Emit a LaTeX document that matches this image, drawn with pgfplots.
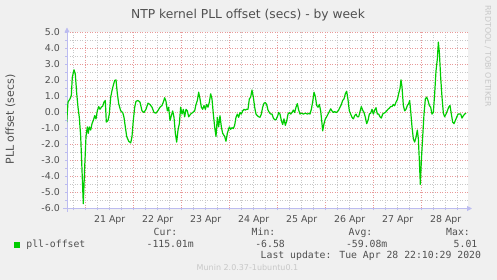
\documentclass[border=0pt]{standalone}
\usepackage{pgfplots}
\pgfplotsset{compat=1.18}
\usepackage{fontspec}
\setmainfont{DejaVu Sans}
\newfontfamily\mono{DejaVu Sans Mono}
\usetikzlibrary{arrows.meta}
\definecolor{bgc}{HTML}{F0F0F0}
\definecolor{txt}{HTML}{505050}
\definecolor{axc}{HTML}{BCBCF0}
\definecolor{mgrid}{HTML}{E89A9A}
\definecolor{grid}{HTML}{C8C8C8}
\definecolor{lgreen}{HTML}{00CC00}
\definecolor{faint}{HTML}{C8C8C8}
\begin{document}
\begin{tikzpicture}[x=1pt,y=1pt]
\fill[bgc] (0,0) rectangle (497,280);
\useasboundingbox (0,0) rectangle (497,280);
\begin{axis}[
  at={(67pt,71.5pt)}, anchor=south west,
  scale only axis, width=401pt, height=176pt,
  xmin=-9.35, xmax=191.15, ymin=-6, ymax=5,
  axis lines=left,
  axis background/.style={fill=white},
  axis line style={draw=axc, line width=0.9pt},
  every outer x axis line/.append style={-{Triangle[length=5pt,width=5pt]}, shorten >=-4pt, shorten <=-4pt},
  every outer y axis line/.append style={-{Triangle[length=5pt,width=5pt]}, shorten >=-5pt, shorten <=-3.5pt},
  xtick={0,24,48,72,96,120,144,168},
  xticklabels={,,,,,,,},
  minor xtick={-6,6,12,18,30,36,42,54,60,66,78,84,90,102,108,114,126,132,138,150,156,162,174,180,186},
  extra x ticks={12,36,60,84,108,132,156,180},
  extra x tick labels={21 Apr,22 Apr,23 Apr,24 Apr,25 Apr,26 Apr,27 Apr,28 Apr},
  extra x tick style={grid=none, major tick length=0pt},
  ytick={-6,-5,-4,-3,-2,-1,0,1,2,3,4,5},
  yticklabels={-6.0,-5.0,-4.0,-3.0,-2.0,-1.0,0.0,1.0,2.0,3.0,4.0,5.0},
  minor ytick={-5.5,-4.5,-3.5,-2.5,-1.5,-0.5,0.5,1.5,2.5,3.5,4.5},
  grid=both,
  major grid style={draw=mgrid, line width=0.7pt, dash pattern=on 1pt off 1.5pt},
  minor grid style={draw=grid, line width=0.7pt, dash pattern=on 1pt off 1.5pt},
  tick align=outside,
  major tick length=2pt, minor tick length=2pt,
  tick style={draw=axc, line width=0.6pt},
  tick label style={font=\fontsize{9.4}{11}\selectfont, text=txt, inner sep=0pt},
  yticklabel style={anchor=east},
  yticklabel shift=5pt,
  xticklabel shift=7pt,
]
\addplot[lgreen, line width=1.2pt, line join=round] coordinates {
(-9.5,-0.6) (-8.85,0.65) (-7.85,0.85) (-7.2,1.06) (-6.7,2.2) (-5.85,2.67) (-5.2,2.4) (-4.5,1.2) (-3.85,0.33) (-3.2,-0.3) (-2.5,-1.5) (-1.85,-3.6) (-1.2,-5.7) (-0.5,-3.4) (0.15,-1.5) (0.8,-0.9) (1.3,-1.3) (1.8,-0.9) (2.5,-1.1) (3.15,-0.7) (3.8,-0.5) (4.5,-0.2) (5.15,-0.4) (5.8,0.1) (6.5,0.37) (7.15,0.2) (7.8,0.33) (8.5,0.4) (9.15,0.65) (9.8,0.75) (10.3,-0.6) (11.15,-0.5) (11.8,-0.1) (12.5,0.96) (13.15,1.37) (13.8,1.7) (14.5,2.0) (15.15,2.04) (15.8,1.2) (16.5,0.55) (17.5,0.1) (18.5,0.0) (19.15,-0.3) (19.8,-0.9) (20.5,-1.5) (21.5,-1.8) (22.5,-1.9) (23.15,-1.5) (23.8,-0.5) (24.5,0.33) (25.15,0.7) (26.15,0.75) (27.15,0.65) (28.15,0.1) (29.15,0.0) (30.15,0.2)
(31.15,0.58) (32.15,0.5) (33.15,0.33) (34.15,0.0) (35.15,-0.04) (36.15,0.12) (37.15,0.33) (38.15,0.44) (38.82,0.65) (39.48,0.92) (40.15,0.7) (40.82,0.1) (41.48,0.33) (42.15,-0.5) (42.82,-0.2) (43.48,0.1) (44.15,-0.3) (44.82,-1.3) (45.48,-1.85) (46.15,-1.1) (46.82,-0.7) (47.48,0.33) (48.15,-0.1) (48.82,0.2) (49.48,-0.27) (50.15,0.2) (50.82,0.1) (51.48,-0.27) (52.48,-0.1) (53.48,0.0) (54.48,0.1) (55.15,0.5) (55.82,0.75) (56.48,1.27) (57.15,0.85) (57.82,0.33) (58.48,0.2) (59.15,0.44) (59.82,0.2) (60.48,0.5) (61.15,0.33) (61.82,0.65) (62.48,1.17) (63.15,0.85) (63.82,-0.1) (64.48,-0.9) (65.15,-1.5) (65.82,-0.3) (66.48,-0.9) (67.15,-0.2) (67.82,-0.9) (68.48,-1.3) (69.48,-1.5) (70.15,-1.8) (70.82,-1.3)
(71.82,-0.9) (72.48,-1.05) (73.15,-0.95) (73.82,-1.0) (74.48,-0.8) (75.15,-0.3) (75.82,-0.1) (76.48,-0.3) (77.15,0.0) (77.82,-0.1) (78.48,0.1) (79.15,0.2) (79.82,0.15) (80.48,0.2) (81.15,0.2) (81.82,0.85) (82.48,0.96) (83.15,1.4) (83.82,0.96) (84.48,0.33) (85.15,-0.1) (85.82,-0.2) (86.48,-0.27) (87.15,-0.3) (87.82,-0.1) (88.48,0.33) (89.15,0.58) (89.82,0.62) (90.48,0.5) (91.15,0.15) (91.82,0.0) (92.48,-0.1) (93.15,-0.1) (93.82,-0.35) (94.48,-0.45) (95.15,-0.45) (95.82,-0.27) (96.48,0.0) (97.15,-0.1) (97.82,-0.5) (98.48,-0.75) (99.15,-0.4) (99.82,-0.8) (100.48,-0.55) (101.15,-0.1) (101.82,0.0) (102.48,-0.1) (103.15,0.0) (103.82,0.15) (104.48,0.0) (105.15,0.33) (105.82,0.55) (106.48,0.15) (107.15,-0.1) (107.82,-0.04) (108.82,-0.1) (109.82,-0.04) (110.82,-0.1) (111.82,-0.04)
(112.15,-0.1) (112.82,0.2) (113.48,0.65) (114.15,1.27) (114.82,1.0) (115.48,0.44) (116.15,0.33) (116.82,0.5) (117.48,0.1) (118.15,-0.7) (118.48,-1.15) (119.15,-0.7) (119.82,-0.4) (120.48,-0.27) (121.15,-0.1) (121.82,0.06) (122.48,0.23) (123.15,0.1) (123.82,0.0) (124.48,0.06) (125.15,0.0) (125.82,0.04) (126.48,0.15) (127.15,0.33) (127.82,0.5) (128.48,0.75) (129.15,0.85) (129.82,1.17) (130.48,1.33) (131.15,0.8) (131.82,0.1) (132.48,-0.1) (133.15,-0.3) (133.82,-0.4) (134.48,-0.2) (135.15,-0.1) (135.82,-0.27) (136.48,-0.27) (137.15,0.06) (137.82,0.37) (138.48,0.15) (139.15,0.0) (139.82,-0.3) (140.48,-0.7) (141.15,-0.5) (141.82,-0.1) (142.48,-0.04) (143.15,0.2) (143.82,-0.1) (144.48,0.15) (145.15,0.3) (145.82,-0.1) (146.48,-0.1) (147.15,-0.27) (147.82,-0.35) (148.48,-0.1) (149.15,-0.04) (149.82,0.0) (150.48,0.1) (151.15,0.2) (151.82,0.27) (152.48,0.37) (153.15,0.37)
(153.82,0.5) (154.48,0.42) (155.15,0.65) (155.82,0.8) (156.48,1.17) (157.15,1.5) (157.65,2.04) (158.15,1.6) (158.82,0.44) (159.48,0.1) (160.15,0.2) (160.82,0.44) (161.48,0.55) (161.98,0.75) (162.48,0.1) (163.15,-0.9) (163.82,-1.65) (164.48,-1.85) (165.15,-1.55) (165.82,-1.1) (166.32,-1.65) (166.82,-3.0) (167.32,-4.5) (167.82,-3.0) (168.48,-1.55) (169.15,-0.1) (169.82,0.85) (170.48,0.96) (171.15,0.75) (171.82,0.44) (172.48,0.33) (173.15,-0.1) (173.82,0.0) (174.48,1.17) (175.15,2.6) (175.82,3.35) (176.32,4.4) (176.82,3.77) (177.48,2.2) (178.15,0.96) (178.82,-0.04) (179.48,-0.27) (180.15,-0.1) (180.82,0.1) (181.48,0.33) (182.15,0.44) (182.82,-0.1) (183.48,-0.6) (184.15,-0.7) (184.82,-0.5) (185.48,-0.3) (186.15,-0.1) (186.82,-0.1) (187.48,-0.1) (188.15,-0.35) (188.82,-0.2) (189.48,-0.1) (190.15,-0.04)
};
\end{axis}
% title and axis label
\node[text=txt, font=\fontsize{12.3}{14}\selectfont, anchor=base] at (248,261.7) {NTP kernel PLL offset (secs) - by week};
\node[text=txt, font=\fontsize{11}{13}\selectfont, rotate=90] at (10.5,160.5) {PLL offset (secs)};
\node[text=faint, font=\fontsize{7.9}{9}\selectfont, rotate=-90] at (488,224) {RRDTOOL / TOBI OETIKER};
% legend
\fill[lgreen] (14,32) rectangle (20,38);
\begin{scope}[every node/.style={text=txt, font=\mono\fontsize{9.8}{11}\selectfont, inner sep=0pt}]
\node[anchor=base west] at (26.2,32) {pll-offset};
\node[anchor=base west] at (153.5,44) {Cur:};
\node[anchor=base west] at (251.5,44) {Min:};
\node[anchor=base west] at (348.5,44) {Avg:};
\node[anchor=base west] at (446,44) {Max:};
\node[anchor=base east] at (194,32) {-115.01m};
\node[anchor=base east] at (285,32) {-6.58};
\node[anchor=base east] at (387.5,32) {-59.08m};
\node[anchor=base east] at (477.5,32) {5.01};
\node[anchor=base west] at (260.5,21) {Last update: Tue Apr 28 22:10:29 2020};
\end{scope}
\node[text=faint, font=\fontsize{8}{9}\selectfont, anchor=base] at (247.5,9) {Munin 2.0.37-1ubuntu0.1};
\end{tikzpicture}
\end{document}
